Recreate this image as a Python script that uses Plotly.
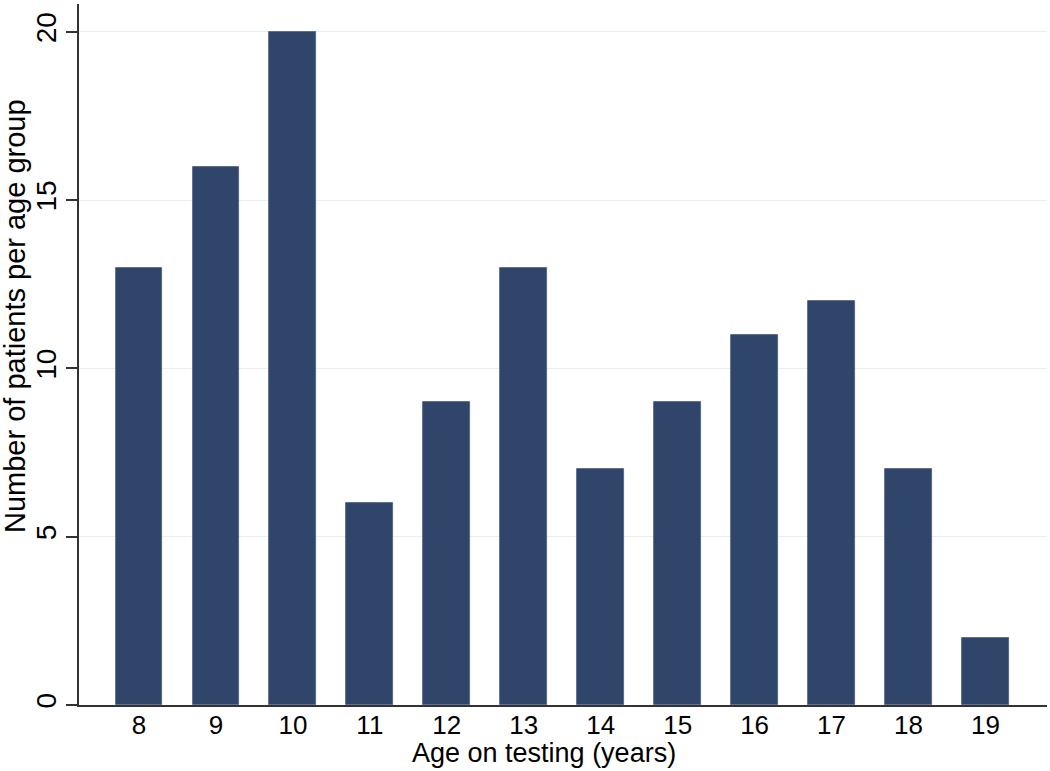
import plotly.graph_objects as go

# Data
ages = [8, 9, 10, 11, 12, 13, 14, 15, 16, 17, 18, 19]
patients = [13, 16, 20, 6, 9, 13, 7, 9, 11, 12, 7, 2]
y_ticks = [0, 5, 10, 15, 20]

BAR_COLOR = '#30456A'
FONT = 'Liberation Sans, Arial, sans-serif'

fig = go.Figure()
fig.add_trace(go.Bar(
    x=ages,
    y=patients,
    width=0.61,
    marker=dict(color=BAR_COLOR, line=dict(color='#4A5E82', width=0.8)),
    name='Patients'
))

# axis titles as annotations so they sit where the original put them
fig.add_annotation(
    text='Age on testing (years)', xref='paper', yref='paper',
    x=0.480, y=-0.068, xanchor='center', yanchor='middle',
    showarrow=False, font=dict(size=27)
)
fig.add_annotation(
    text='Number of patients per age group', xref='paper', yref='paper',
    x=-0.066, y=0.555, xanchor='center', yanchor='middle', textangle=-90,
    showarrow=False, font=dict(size=29)
)

fig.update_layout(
    width=1050,
    height=771,
    margin=dict(l=79, r=3, t=4, b=66),
    paper_bgcolor='white',
    plot_bgcolor='white',
    font=dict(family=FONT, size=27, color='black'),
    showlegend=False,
    bargap=0,
    xaxis=dict(
        range=[7.22, 19.8],
        automargin=False,
        tickmode='array',
        tickvals=ages,
        ticktext=[str(a) for a in ages],
        ticks='',
        ticklabelstandoff=-4,
        showgrid=False,
        showline=True,
        linecolor='#333333',
        linewidth=1.5,
        zeroline=False,
        tickfont=dict(size=26),
    ),
    yaxis=dict(
        range=[0, 20.83],
        automargin=False,
        tickmode='array',
        tickvals=y_ticks,
        ticks='outside',
        ticklen=11,
        tickwidth=1.5,
        tickcolor='#333333',
        tickangle=-90,
        ticklabelstandoff=-1,
        showgrid=True,
        gridcolor='#E6EFF1',
        gridwidth=1.2,
        showline=True,
        linecolor='#333333',
        linewidth=1.5,
        zeroline=False,
        tickfont=dict(size=28),
    ),
)

# page body has a default margin; drop it so the figure sits at the window corner
fig.write_html("out.html", config={'displayModeBar': False},
               post_script="document.body.style.margin='0';")
